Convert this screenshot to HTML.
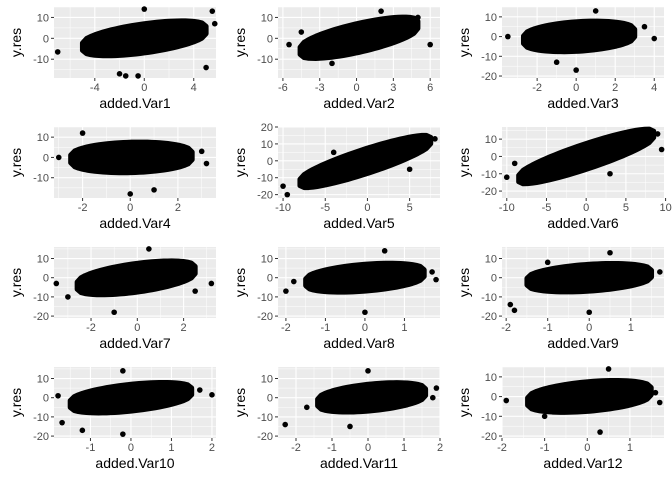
<!DOCTYPE html>
<html><head><meta charset="utf-8"><style>
body{margin:0;background:#fff;}
svg{display:block;font-family:"Liberation Sans",sans-serif;}
</style></head><body>
<svg id="c" width="672" height="480"></svg>
<script>
const panelNames=["added.Var1","added.Var2","added.Var3","added.Var4","added.Var5","added.Var6","added.Var7","added.Var8","added.Var9","added.Var10","added.Var11","added.Var12"];
const xDomains=[[-7.3,5.8],[-6.4,6.8],[-3.8,4.5],[-3.2,3.6],[-10.6,8.6],[-10.6,9.8],[-3.6,3.4],[-2.2,1.9],[-2.1,1.8],[-1.9,2.1],[-2.5,2.0],[-2.0,1.8]];
const yDomains=[[-19,15],[-19,15],[-21,15],[-20,15],[-22,20],[-24,17],[-21,16],[-21,16],[-21,16],[-21,16],[-21,16],[-21,15]];
const xTicks=[[-4,0,4],[-6,-3,0,3,6],[-2,0,2,4],[-2,0,2],[-10,-5,0,5],[-10,-5,0,5,10],[-2,0,2],[-2,-1,0,1],[-2,-1,0,1],[-1,0,1,2],[-2,-1,0,1,2],[-2,-1,0,1]];
const yTicks=[[-10,0,10],[-10,0,10],[-20,-10,0,10],[-10,0,10],[-20,-10,0,10,20],[-20,-10,0,10],[-20,-10,0,10],[-20,-10,0,10],[-20,-10,0,10],[-20,-10,0,10],[-20,-10,0,10],[-20,-10,0,10]];
const cloudX=[[-5,5],[-4.6,5],[-2.7,3],[-2.5,2.6],[-8,7.5],[-8.5,8.5],[-2.6,2.5],[-1.5,1.5],[-1.5,1.5],[-1.5,1.5],[-1.4,1.6],[-1.4,1.5]];
const slopes=[0.8,1.3,0.6,0.3,1.6,1.5,1.6,1.6,1.4,2.2,1.8,1.8];
const spreads=[7,7,7.5,7.5,7.5,7.5,7.5,7,7,7,7,7.5];
const outliers=[
[[-7,-6.5],[5,-14],[5.5,13],[-2,-17],[-1.5,-18],[-0.5,-18],[5.7,7],[0,14]],
[[-5.5,-3],[-4.5,3],[5,10],[6,-3],[-2,-12],[2,13]],
[[-3.5,0],[3.5,5],[4,-1],[0,-17],[-1,-13],[1,13]],
[[-3,0],[3,3],[3.2,-3],[-2,12],[0,-18],[1,-16]],
[[-10,-15],[-9.5,-20],[8,13],[5,-5],[-4,5]],
[[-10,-12],[-9,-4],[9,13],[9.5,4],[3,-10]],
[[-3.5,-3],[-3,-10],[3.2,-3],[2.5,-7],[0.5,15],[-1,-18]],
[[-2,-7],[-1.8,-2],[1.7,3],[1.8,-1],[0,-18],[0.5,14]],
[[-1.9,-14],[-1.8,-17],[1.7,3],[-1,8],[0.5,13],[0,-18]],
[[-1.8,1],[-1.7,-13],[2,1.5],[1.7,4],[-1.2,-17],[-0.2,-19],[-0.2,14]],
[[-2.3,-14],[-1.7,-5],[1.9,5],[1.8,0],[-0.5,-15],[0,14]],
[[-1.9,-2],[1.6,2],[1.7,-3],[0.3,-18],[0.5,14],[-1,-10]]
];
const svg=document.getElementById('c');
const NS='http://www.w3.org/2000/svg';
function mk(t,a,p){const e=document.createElementNS(NS,t);for(const k in a)e.setAttribute(k,a[k]);(p||svg).appendChild(e);return e;}
for(let i=0;i<12;i++){
 const ox=224*(i%3), oy=120*Math.floor(i/3);
 const L=ox+54,R=ox+216,T=oy+7,B=oy+78;
 const g=mk('g',{});
 
 
 const xd=xDomains[i],yd=yDomains[i];
 const sx=v=>L+(v-xd[0])/(xd[1]-xd[0])*(R-L);
 const sy=v=>B-(v-yd[0])/(yd[1]-yd[0])*(B-T);
 const bg=mk('rect',{x:L,y:T,width:R-L,height:B-T,fill:'#ebebeb'},g);
 
 
 const xt=xTicks[i],yt=yTicks[i];
 const xs=xt[1]-xt[0],ys=yt[1]-yt[0];
 for(let v=xt[0]-xs/2;v<=xd[1];v+=xs) if(v>=xd[0]) mk('line',{x1:sx(v),x2:sx(v),y1:T,y2:B,stroke:'#fff','stroke-width':0.5},g);
 for(let v=yt[0]-ys/2;v<=yd[1];v+=ys) if(v>=yd[0]) mk('line',{y1:sy(v),y2:sy(v),x1:L,x2:R,stroke:'#fff','stroke-width':0.5},g);
 xt.forEach(v=>{mk('line',{x1:sx(v),x2:sx(v),y1:T,y2:B,stroke:'#fff','stroke-width':1.1},g);
  mk('line',{x1:sx(v),x2:sx(v),y1:B,y2:B+3,stroke:'#333'},g);
  const t=mk('text',{x:sx(v),y:B+13,'text-anchor':'middle','font-size':11,fill:'#4d4d4d'},g);t.textContent=v;
  
  });
 yt.forEach(v=>{mk('line',{y1:sy(v),y2:sy(v),x1:L,x2:R,stroke:'#fff','stroke-width':1.1},g);
  mk('line',{y1:sy(v),y2:sy(v),x1:L-3,x2:L,stroke:'#333'},g);
  const t=mk('text',{x:L-5,y:sy(v)+4,'text-anchor':'end','font-size':11,fill:'#4d4d4d'},g);t.textContent=v;
  
  });
 const cx=cloudX[i],s=slopes[i],h=spreads[i];
 const pts=[];const n=30;
 const prof=k=>{const t=2*k/n-1;return 0.25+0.75*Math.sqrt(Math.max(0,1-t*t));};
 for(let k=0;k<=n;k++){const x=cx[0]+(cx[1]-cx[0])*k/n;pts.push(sx(x)+','+sy(s*x+h*prof(k)));}
 for(let k=n;k>=0;k--){const x=cx[0]+(cx[1]-cx[0])*k/n;pts.push(sx(x)+','+sy(s*x-h*prof(k)));}
 const cl=mk('polygon',{points:pts.join(' '),fill:'#000',stroke:'#000','stroke-width':5,'stroke-linejoin':'round'},g);
 
 
 outliers[i].forEach(p=>{const c=mk('circle',{cx:sx(p[0]),cy:sy(p[1]),r:2.8,fill:'#000'},g);
  
  });
 const xl=mk('text',{x:(L+R)/2,y:oy+108,'text-anchor':'middle','font-size':14,fill:'#000'},g);xl.textContent=panelNames[i];
 
 
 const yl=mk('text',{x:0,y:0,'text-anchor':'middle','font-size':14,fill:'#000',transform:`translate(${ox+21},${(T+B)/2}) rotate(-90)`},g);yl.textContent='y.res';
 
 
}
</script>
</body></html>
